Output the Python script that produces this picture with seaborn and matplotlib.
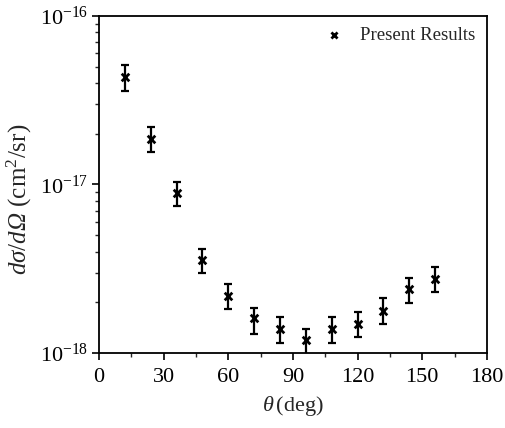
import numpy as np
import pandas as pd
import matplotlib
matplotlib.use("Agg")
import matplotlib.pyplot as plt
import matplotlib.ticker as mticker
import seaborn as sns

# scattering angle (deg) and differential cross section (cm^2/sr)
theta = [12, 24, 36, 48, 60, 72, 84, 96, 108, 120, 132, 144, 156]
dcs = [4.36e-17, 1.85e-17, 8.9e-18, 3.56e-18, 2.18e-18, 1.61e-18, 1.39e-18,
       1.20e-18, 1.39e-18, 1.49e-18, 1.78e-18, 2.39e-18, 2.76e-18]
dcs_hi = [5.1e-17, 2.19e-17, 1.04e-17, 4.12e-18, 2.57e-18, 1.86e-18, 1.64e-18,
          1.39e-18, 1.64e-18, 1.76e-18, 2.11e-18, 2.77e-18, 3.25e-18]
dcs_lo = [3.6e-17, 1.55e-17, 7.45e-18, 2.97e-18, 1.82e-18, 1.30e-18, 1.15e-18,
          0.98e-18, 1.15e-18, 1.24e-18, 1.49e-18, 1.99e-18, 2.30e-18]

df = pd.DataFrame({"theta": theta, "dcs": dcs})

sns.set_style("ticks")
plt.rcParams["font.family"] = ["Liberation Serif", "DejaVu Serif"]
plt.rcParams["mathtext.fontset"] = "custom"
plt.rcParams["mathtext.rm"] = "Liberation Serif"
plt.rcParams["mathtext.it"] = "Liberation Serif:italic"
plt.rcParams["mathtext.bf"] = "Liberation Serif:bold"
# sf slot used to get an italic capital Omega
plt.rcParams["mathtext.sf"] = "Liberation Serif:italic"

fig = plt.figure(figsize=(5.05, 4.28), dpi=100)
ax = fig.add_axes([0.196, 0.175, 0.768, 0.788])

# error bars
yerr = np.array([np.array(dcs) - np.array(dcs_lo), np.array(dcs_hi) - np.array(dcs)])
ax.errorbar(theta, dcs, yerr=yerr, fmt="none", ecolor="black", elinewidth=1.6,
            capsize=3, capthick=1.6, zorder=2)

sns.scatterplot(data=df, x="theta", y="dcs", marker="x", color="black", s=30,
                linewidth=2, ax=ax, label="Present Results", zorder=3)

ax.set_yscale("log")
ax.set_ylim(1e-18, 1e-16)
ax.set_xlim(0, 180)
ax.set_xticks(np.arange(0, 181, 30))
ax.xaxis.set_minor_locator(mticker.MultipleLocator(15))


def pow_label(v, pos):
    return r"$10^{%d}$" % int(round(np.log10(v)))


ax.yaxis.set_major_formatter(mticker.FuncFormatter(pow_label))
ax.yaxis.set_minor_formatter(mticker.NullFormatter())

for side in ["top", "right", "left", "bottom"]:
    ax.spines[side].set_visible(True)
    ax.spines[side].set_linewidth(1.3)
    ax.spines[side].set_color("black")

ax.tick_params(axis="both", which="major", direction="out", length=5, width=1.2,
               labelsize=16, colors="black", top=False, right=False, pad=3)
ax.tick_params(axis="x", which="major", pad=6)
ax.tick_params(axis="both", which="minor", direction="out", length=3, width=1.0,
               top=False, right=False)

ax.set_xlabel(r"$\mathit{\theta}\,$(deg)", fontsize=16, labelpad=5)
ax.set_ylabel(r"$d\sigma/d\mathsf{\Omega}$ (cm$^2$/sr)", fontsize=18)
ax.yaxis.set_label_coords(-0.168, 0.455)

leg = ax.legend(loc="upper right", frameon=False, fontsize=13.5, handletextpad=0.4,
                borderaxespad=0.2, markerscale=0.8)

fig.savefig("out.png", dpi=100)
